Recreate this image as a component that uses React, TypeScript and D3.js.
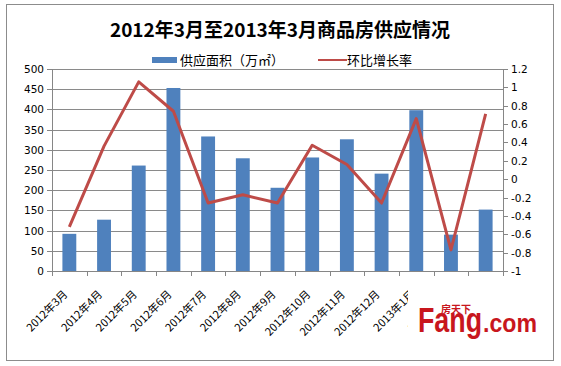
import { useMemo } from 'react'
import * as d3 from 'd3'

// 供应面积（万㎡）与环比增长率, 2012年3月 – 2013年3月
const months = [
  '2012年3月', '2012年4月', '2012年5月', '2012年6月', '2012年7月', '2012年8月',
  '2012年9月', '2012年10月', '2012年11月', '2012年12月', '2013年1月', '2013年2月', '2013年3月'
]
const supply = [92, 127, 261, 453, 333, 279, 206, 281, 326, 241, 398, 90, 152]
const growth = [-0.52, 0.36, 1.06, 0.74, -0.26, -0.17, -0.26, 0.37, 0.16, -0.26, 0.66, -0.77, 0.71]
const leftTicks = [0, 50, 100, 150, 200, 250, 300, 350, 400, 450, 500]
const rightTicks = [-1, -0.8, -0.6, -0.4, -0.2, 0, 0.2, 0.4, 0.6, 0.8, 1, 1.2]

const W = 561
const H = 366
const plot = { left: 52, right: 503, top: 69, bottom: 271 }
const cjk = '"Noto Sans CJK SC", "DejaVu Sans", sans-serif'
const num = '"DejaVu Sans", Verdana, sans-serif'

export default function App() {
  const x = useMemo(() => d3.scaleBand<string>().domain(months).range([plot.left, plot.right]), [])
  const yL = useMemo(() => d3.scaleLinear().domain([0, 500]).range([plot.bottom, plot.top]), [])
  const yR = useMemo(() => d3.scaleLinear().domain([-1, 1.2]).range([plot.bottom, plot.top]), [])

  const barW = x.bandwidth() * 0.4
  const line = d3.line<number>()
    .x((_, i) => (x(months[i]) || 0) + x.bandwidth() / 2)
    .y(d => yR(d))

  const fmt = (v: number) => (Math.round(v * 10) / 10).toString()

  return (
    <svg width={W} height={H} style={{ position: 'absolute', left: 0, top: 0, background: '#fff' }}>
      {/* outer frame */}
      <rect x={6.5} y={4.5} width={547} height={356} fill="#fff" stroke="#8c8c8c" strokeWidth={1} />

      {/* title */}
      <text x={280} y={37} textAnchor="middle" fontFamily={cjk} fontWeight="bold" fontSize={19} fill="#000">
        2012年3月至2013年3月商品房供应情况
      </text>

      {/* legend */}
      <rect x={152} y={57} width={25} height={6} fill="#4F81BD" />
      <text x={180} y={65} fontFamily={cjk} fontSize={13} fill="#000">供应面积（万㎡）</text>
      <line x1={318} x2={347} y1={60} y2={60} stroke="#BE4B48" strokeWidth={2} />
      <text x={347} y={65} fontFamily={cjk} fontSize={13} fill="#000">环比增长率</text>

      {/* gridlines */}
      {leftTicks.slice(1).map(t => (
        <line key={t} x1={plot.left} x2={plot.right} y1={Math.round(yL(t)) + 0.5} y2={Math.round(yL(t)) + 0.5}
          stroke="#8a8a8a" strokeWidth={1} />
      ))}

      {/* bars */}
      {supply.map((v, i) => (
        <rect key={i} x={(x(months[i]) || 0) + (x.bandwidth() - barW) / 2} y={yL(v)}
          width={barW} height={yL(0) - yL(v)} fill="#4F81BD" />
      ))}

      {/* axes */}
      <line x1={plot.left + 0.5} x2={plot.left + 0.5} y1={plot.top} y2={plot.bottom} stroke="#868686" />
      <line x1={plot.right + 0.5} x2={plot.right + 0.5} y1={plot.top} y2={plot.bottom} stroke="#868686" />
      <line x1={plot.left} x2={plot.right} y1={plot.bottom + 0.5} y2={plot.bottom + 0.5} stroke="#868686" />

      {leftTicks.map(t => (
        <g key={t}>
          <line x1={plot.left - 5} x2={plot.left} y1={Math.round(yL(t)) + 0.5} y2={Math.round(yL(t)) + 0.5} stroke="#868686" />
          <text x={plot.left - 8} y={yL(t) + 4} textAnchor="end" fontFamily={num} fontSize={10.5} fill="#000">{t}</text>
        </g>
      ))}
      {rightTicks.map(t => (
        <g key={t}>
          <line x1={plot.right} x2={plot.right + 5} y1={Math.round(yR(t)) + 0.5} y2={Math.round(yR(t)) + 0.5} stroke="#868686" />
          <text x={plot.right + 8} y={yR(t) + 4} textAnchor="start" fontFamily={num} fontSize={10.5} fill="#000">{fmt(t)}</text>
        </g>
      ))}

      {/* category ticks */}
      {[...months.map(m => x(m) || 0), plot.right].map((px, i) => (
        <line key={i} x1={Math.round(px) + 0.5} x2={Math.round(px) + 0.5} y1={plot.bottom} y2={plot.bottom + 5} stroke="#868686" />
      ))}

      {/* category labels */}
      {months.map(m => {
        const cx = (x(m) || 0) + x.bandwidth() / 2 - 1
        const cy = plot.bottom + 24
        return (
          <text key={m} x={cx} y={cy} transform={`rotate(-45 ${cx} ${cy})`} textAnchor="end"
            fontFamily={cjk} fontSize={11} fill="#000">{m}</text>
        )
      })}

      {/* growth line */}
      <path d={line(growth) || ''} fill="none" stroke="#BE4B48" strokeWidth={3} strokeLinejoin="round" />

      {/* watermark logo */}
      <rect x={408} y={288} width={145} height={58} fill="#fff" />
      <text x={418} y={332} fontFamily='"Liberation Sans", Arial, sans-serif' fontWeight="bold" fontSize={35}
        fill="#C8161D" textLength={64} lengthAdjust="spacingAndGlyphs">Fang</text>
      <text x={483} y={332} fontFamily='"Liberation Sans", Arial, sans-serif' fontWeight="bold" fontSize={26}
        fill="#C8161D" textLength={54} lengthAdjust="spacingAndGlyphs">.com</text>
      <text x={441} y={313} fontFamily={cjk} fontWeight="bold" fontSize={10} fill="#C8161D">房天下</text>
    </svg>
  )
}
